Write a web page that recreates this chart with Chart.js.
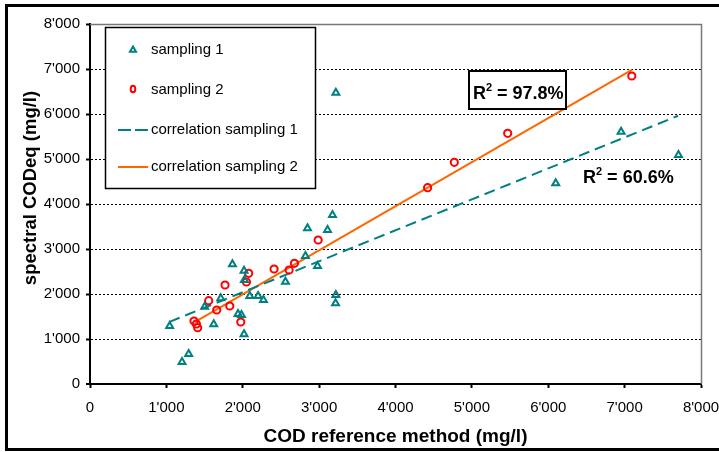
<!DOCTYPE html>
<html>
<head>
<meta charset="utf-8">
<script src="https://cdn.jsdelivr.net/npm/chart.js@4/dist/chart.umd.min.js"></script>
<style>
  html, body { margin: 0; padding: 0; background: #fff; }
  #wrap { width: 719px; height: 452px; position: relative; }
</style>
</head>
<body>
<div id="wrap"><canvas id="c" width="719" height="452"></canvas></div>
<script>
// ---- data ----
const sampling1X = [1043,1205,1292,1502,1620,1712,1865,1938,1983,2017,2017,2022,2092,2201,2271,2559,2821,2848,2979,3110,3175,3215,3219,3219,6098,6954,7705];
const sampling1Y = [1289,489,667,1718,1326,1904,2660,1555,1533,1104,2518,2311,1956,1956,1867,2274,2844,3459,2622,3422,3756,1793,1978,6473,4459,5607,5089];
const sampling2X = [1362,1393,1410,1554,1659,1768,1830,1974,2048,2078,2410,2607,2677,2987,4420,4770,5469,7094];
const sampling2Y = [1400,1333,1252,1852,1644,2200,1733,1378,2267,2459,2556,2533,2681,3200,4363,4926,5570,6844];
const corr1X = [1040, 7700];
const corr1Y = [1380, 5960];
const corr2X = [1370, 7100];
const corr2Y = [1375, 6985];
const seriesNames = ['sampling 1', 'sampling 2', 'correlation sampling 1', 'correlation sampling 2'];
const r2Labels = ['97.8%', '60.6%'];
const r2Pos = [[5014, 6333], [6455, 4467]];
const xTitle = 'COD reference method (mg/l)';
const yTitle = 'spectral CODeq (mg/l)';
const axisMin = 0, axisMax = 8000, axisStep = 1000;

const TEAL = '#008080', RED = '#ff0000', ORANGE = '#ff6600';
const FONT = '"Liberation Sans", Arial, sans-serif';

const pts = (xs, ys) => xs.map((x, i) => ({x, y: ys[i]}));
const fmt = v => v === 0 ? '0' : Math.floor(v / 1000) + "'" + String(v % 1000).padStart(3, '0');

function drawTri(ctx, x, y, r) {
  ctx.beginPath();
  for (let k = 0; k < 3; k++) {
    const a = -Math.PI / 2 + k * 2 * Math.PI / 3;
    const px = x + Math.cos(a) * r, py = y + Math.sin(a) * r;
    k ? ctx.lineTo(px, py) : ctx.moveTo(px, py);
  }
  ctx.closePath();
  ctx.stroke();
}

const decor = {
  id: 'decor',
  beforeDatasetsDraw(chart) {
    const {ctx, chartArea: a} = chart;
    ctx.save();
    ctx.strokeStyle = '#777';
    ctx.lineWidth = 1.5;
    ctx.beginPath();
    ctx.moveTo(a.left, a.top + 0.5);
    ctx.lineTo(a.right + 0.5, a.top + 0.5);
    ctx.lineTo(a.right + 0.5, a.bottom);
    ctx.stroke();
    ctx.restore();
  },
  afterDraw(chart) {
    const {ctx} = chart;
    const xs = chart.scales.x, ys = chart.scales.y;
    ctx.save();
    // outer frame
    ctx.strokeStyle = '#000';
    ctx.lineWidth = 3;
    ctx.beginPath();
    ctx.moveTo(730, 5.5);
    ctx.lineTo(6.5, 5.5);
    ctx.lineTo(6.5, 449.5);
    ctx.lineTo(730, 449.5);
    ctx.stroke();

    // y axis title
    ctx.save();
    ctx.translate(31, 188);
    ctx.rotate(-Math.PI / 2);
    ctx.font = 'bold 18.5px ' + FONT;
    ctx.fillStyle = '#000';
    ctx.textAlign = 'center';
    ctx.textBaseline = 'middle';
    ctx.fillText(yTitle, 0, 0);
    ctx.restore();

    // legend
    const L = 105, T = 27, W = 210, H = 161;
    ctx.fillStyle = '#fff';
    ctx.fillRect(L, T, W, H);
    ctx.lineWidth = 1.5;
    ctx.strokeStyle = '#000';
    ctx.strokeRect(L + 0.5, T + 0.5, W, H);
    ctx.font = '15px ' + FONT;
    ctx.fillStyle = '#000';
    ctx.textBaseline = 'middle';
    ctx.textAlign = 'left';
    const rows = [50, 90, 130, 167];
    rows.forEach((ry, i) => ctx.fillText(seriesNames[i], 151, ry));
    ctx.lineWidth = 2;
    ctx.strokeStyle = TEAL;
    drawTri(ctx, 133, 50, 3.5);
    ctx.strokeStyle = RED;
    ctx.beginPath();
    ctx.ellipse(133, 89, 2.3, 3.3, 0, 0, Math.PI * 2);
    ctx.stroke();
    ctx.strokeStyle = TEAL;
    ctx.setLineDash([13, 4]);
    ctx.beginPath(); ctx.moveTo(118, 130); ctx.lineTo(148, 130); ctx.stroke();
    ctx.setLineDash([]);
    ctx.strokeStyle = ORANGE;
    ctx.beginPath(); ctx.moveTo(118, 167); ctx.lineTo(148, 167); ctx.stroke();

    // R² labels
    const drawR2 = (txt, px, py, boxed) => {
      ctx.fillStyle = '#000';
      ctx.textBaseline = 'alphabetic';
      ctx.font = 'bold 18px ' + FONT;
      const wR = ctx.measureText('R').width;
      ctx.font = 'bold 11px ' + FONT;
      const w2 = ctx.measureText('2').width;
      ctx.font = 'bold 18px ' + FONT;
      const rest = ' = ' + txt;
      const wRest = ctx.measureText(rest).width;
      if (boxed) {
        ctx.fillStyle = '#fff';
        ctx.fillRect(469, py - 28, 97, 38);
        ctx.strokeStyle = '#000';
        ctx.lineWidth = 2;
        ctx.strokeRect(469, py - 28, 97, 38);
        ctx.fillStyle = '#000';
      }
      ctx.fillText('R', px, py);
      ctx.font = 'bold 11px ' + FONT;
      ctx.fillText('2', px + wR, py - 8);
      ctx.font = 'bold 18px ' + FONT;
      ctx.fillText(rest, px + wR + w2, py);
    };
    drawR2(r2Labels[0], xs.getPixelForValue(r2Pos[0][0]), ys.getPixelForValue(r2Pos[0][1]), true);
    drawR2(r2Labels[1], xs.getPixelForValue(r2Pos[1][0]), ys.getPixelForValue(r2Pos[1][1]), false);
    ctx.restore();
  }
};

new Chart(document.getElementById('c'), {
  type: 'scatter',
  data: {
    datasets: [
      { label: seriesNames[0], data: pts(sampling1X, sampling1Y), pointStyle: 'triangle',
        pointRadius: 4, pointBorderWidth: 2, borderColor: TEAL, backgroundColor: 'rgba(0,0,0,0)', pointBackgroundColor: 'rgba(0,0,0,0)' },
      { label: seriesNames[1], data: pts(sampling2X, sampling2Y), pointStyle: 'circle',
        pointRadius: 3.6, pointBorderWidth: 2, borderColor: RED, backgroundColor: 'rgba(0,0,0,0)', pointBackgroundColor: 'rgba(0,0,0,0)' },
      { label: seriesNames[2], data: pts(corr1X, corr1Y), showLine: true, pointRadius: 0,
        borderColor: TEAL, borderWidth: 2, borderDash: [11, 6] },
      { label: seriesNames[3], data: pts(corr2X, corr2Y), showLine: true, pointRadius: 0,
        borderColor: ORANGE, borderWidth: 2 }
    ]
  },
  options: {
    responsive: false,
    animation: false,
    events: [],
    layout: { padding: { left: 0, right: 18, top: 24, bottom: 0 } },
    plugins: { legend: { display: false }, tooltip: { enabled: false } },
    scales: {
      x: {
        type: 'linear', min: axisMin, max: axisMax,
        afterFit(s) { s.height = 68; s.paddingLeft = 0; s.paddingRight = 0; },
        ticks: { stepSize: axisStep, callback: fmt, color: '#000', padding: 11,
                 font: { family: FONT, size: 15 }, maxRotation: 0 },
        grid: { drawOnChartArea: false, drawTicks: true, tickLength: 4, tickColor: '#000', tickWidth: 2 },
        border: { display: true, color: '#000', width: 2 },
        title: { display: true, text: xTitle, color: '#000',
                 font: { family: FONT, size: 19, weight: 'bold' }, padding: { top: 0, bottom: 4 } }
      },
      y: {
        type: 'linear', min: axisMin, max: axisMax,
        afterFit(s) { s.width = 90; s.paddingTop = 0; s.paddingBottom = 0; },
        ticks: { stepSize: axisStep, callback: fmt, color: '#000', padding: 6,
                 font: { family: FONT, size: 15 } },
        grid: { drawOnChartArea: true, drawTicks: true, tickLength: 4, tickColor: '#000', tickWidth: 2,
                color: '#000', lineWidth: c => (c.tick && c.tick.value === 0) ? 0 : 1 },
        border: { display: true, color: '#000', width: 2, dash: [2, 2] },
        title: { display: false, text: yTitle }
      }
    }
  },
  plugins: [decor]
});
</script>
</body>
</html>
